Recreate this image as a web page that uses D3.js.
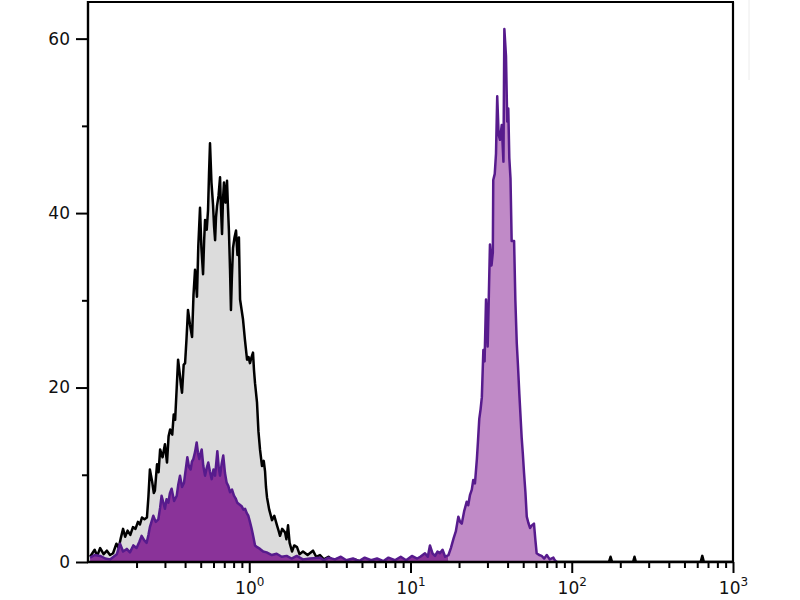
<!DOCTYPE html>
<html>
<head>
<meta charset="utf-8">
<script src="https://cdn.jsdelivr.net/npm/d3@7"></script>
<style>
  html, body { margin: 0; padding: 0; background: #fff; }
  svg { display: block; }
  text { font-family: "DejaVu Sans", Verdana, sans-serif; fill: #111; }
</style>
</head>
<body>
<svg id="chart" width="800" height="600"></svg>
<script>
// ---- data (fluorescence value, event count) ----
const controlHist = [
  [0.103,0.6],[0.110,1.4],[0.114,0.7],[0.119,1.6],[0.125,0.9],[0.131,1.3],[0.137,0.8],[0.143,1.0],
  [0.150,2.1],[0.155,1.6],[0.160,2.8],[0.165,3.8],[0.170,2.9],[0.176,3.6],[0.183,3.1],[0.190,4.0],
  [0.197,3.8],[0.204,4.6],[0.210,4.3],[0.216,5.1],[0.224,4.9],[0.232,5.1],[0.237,7.5],[0.242,10.6],
  [0.250,9.2],[0.256,7.9],[0.260,8.2],[0.268,11.2],[0.274,10.3],[0.280,12.9],[0.290,12.0],[0.300,13.5],
  [0.309,11.4],[0.316,14.4],[0.323,15.2],[0.333,14.6],[0.340,16.9],[0.347,16.3],[0.355,20.0],[0.362,23.2],
  [0.371,21.5],[0.377,20.3],[0.383,19.4],[0.392,22.6],[0.400,22.8],[0.408,25.5],[0.417,28.9],[0.429,27.2],
  [0.442,25.8],[0.451,30.6],[0.461,33.5],[0.468,31.8],[0.474,30.4],[0.483,36.2],[0.495,40.6],[0.505,36.0],
  [0.517,33.0],[0.525,36.8],[0.532,39.2],[0.545,38.1],[0.555,40.3],[0.563,44.5],[0.571,48.0],[0.583,43.5],
  [0.596,41.0],[0.605,38.5],[0.614,36.9],[0.622,39.5],[0.631,40.8],[0.645,42.0],[0.659,44.1],[0.668,40.5],
  [0.678,37.6],[0.687,41.5],[0.697,43.5],[0.712,41.2],[0.728,43.7],[0.738,40.6],[0.748,38.0],[0.760,33.5],
  [0.770,28.9],[0.780,32.5],[0.793,36.0],[0.810,37.2],[0.828,38.0],[0.845,35.2],[0.863,37.2],[0.877,30.1],
  [0.895,29.0],[0.915,27.8],[0.940,25.5],[0.969,23.2],[0.990,23.5],[1.010,22.8],[1.030,23.4],[1.055,24.0],
  [1.070,22.0],[1.086,20.5],[1.117,18.3],[1.140,15.0],[1.166,12.9],[1.200,11.0],[1.230,11.6],[1.253,10.4],
  [1.270,8.6],[1.289,7.4],[1.330,6.0],[1.384,4.8],[1.430,5.3],[1.486,4.2],[1.520,3.6],[1.552,3.0],
  [1.600,3.8],[1.667,3.4],[1.700,2.6],[1.740,4.2],[1.780,2.2],[1.842,1.2],[1.900,1.9],[1.978,1.7],
  [2.050,0.9],[2.154,1.2],[2.300,0.8],[2.484,1.3],[2.600,0.6],[2.745,0.8],[2.900,0.3],[3.100,0.6],
  [3.300,0.2],[3.600,0.4],[4.000,0.1],[4.500,0.3],[5.000,0.0],[170,0.0],[174,0.6],[178,0.0],
  [240,0.0],[245,0.6],[250,0.0],[630,0.0],[645,0.7],[660,0.0],[1000,0.0]
];

const stainedLow = [
  [0.103,0.5],[0.110,0.8],[0.119,0.7],[0.128,0.4],[0.137,0.3],[0.144,0.6],[0.151,0.9],[0.158,2.1],
  [0.165,1.2],[0.174,1.5],[0.182,1.1],[0.191,1.9],[0.200,1.6],[0.208,2.3],[0.215,3.0],[0.223,2.5],
  [0.231,2.2],[0.237,3.1],[0.242,4.0],[0.254,5.3],[0.263,4.6],[0.273,4.9],[0.280,6.2],[0.286,7.6],
  [0.300,6.1],[0.307,7.2],[0.315,6.8],[0.322,7.9],[0.330,8.4],[0.342,7.0],[0.355,7.6],[0.363,8.9],
  [0.372,9.9],[0.383,8.6],[0.394,9.1],[0.403,10.5],[0.413,12.0],[0.423,10.9],[0.433,10.6],[0.441,11.5],
  [0.450,11.8],[0.461,12.6],[0.472,13.7],[0.481,12.5],[0.490,11.8],[0.498,12.4],[0.507,12.9],[0.519,11.0],
  [0.532,9.9],[0.545,10.8],[0.557,11.4],[0.570,10.4],[0.585,9.5],[0.600,10.6],[0.614,9.9],[0.634,12.7],
  [0.647,10.8],[0.659,9.9],[0.675,11.3],[0.690,12.2],[0.707,10.2],[0.724,9.1],[0.742,8.7],[0.760,8.0],
  [0.782,8.3],[0.804,7.6],[0.823,7.3],[0.843,6.8],[0.870,6.6],[0.897,6.4],[0.920,6.0],[0.942,6.1],
  [0.965,5.6],[0.987,5.3],[1.010,4.6],[1.035,3.8],[1.060,2.9],[1.086,1.9],[1.120,1.7],[1.166,1.5],
  [1.220,1.2],[1.282,1.1],[1.380,0.8],[1.479,0.95],[1.590,0.6],[1.706,0.7],[1.830,0.4],[1.970,0.7],
  [2.150,0.3],[2.380,0.4],[2.745,0.5],[2.900,0.2],[3.100,0.5],[3.400,0.3],[3.700,0.6],[4.000,0.2],
  [4.400,0.4],[4.800,0.1],[5.200,0.5],[5.700,0.2],[6.200,0.4],[6.800,0.1],[7.300,0.5],[8.000,0.2],
  [8.700,0.6],[9.400,0.2],[10.20,0.7],[11.00,0.4],[11.50,0.6],[12.30,1.0],[12.80,0.6],[13.20,1.9],
  [13.70,1.0],[14.20,0.7],[14.70,1.2],[15.20,1.0],[15.80,1.4],[16.40,0.6],[17.20,0.8]
];

const stainedHigh = [
  [17.2,0.8],[17.8,1.6],[18.5,2.7],[19.1,3.5],[19.8,5.2],[20.3,4.6],[20.8,4.4],[21.5,5.8],
  [22.3,6.9],[22.8,6.5],[23.4,7.7],[24.0,8.3],[24.5,9.4],[25.1,9.0],[25.8,11.8],[26.2,13.8],
  [26.7,16.4],[27.2,17.5],[27.7,18.9],[28.3,24.3],[28.8,23.0],[29.4,30.1],[30.1,24.7],[30.6,30.5],
  [31.1,36.4],[31.8,34.0],[32.4,35.5],[32.6,43.8],[33.3,44.5],[33.9,46.8],[34.5,53.4],[35.2,49.0],
  [35.9,48.4],[36.8,50.1],[37.7,45.9],[38.2,61.1],[39.1,58.0],[39.8,50.5],[40.4,52.0],[41.0,46.3],
  [41.7,44.0],[42.4,36.8],[43.9,36.8],[44.7,30.0],[45.6,25.1],[46.4,22.5],[47.3,19.3],[48.9,14.3],
  [49.7,12.5],[50.6,10.2],[51.6,8.0],[52.6,5.2],[53.8,4.5],[55.1,3.9],[56.6,4.2],[58.3,4.4],
  [59.5,2.5],[60.6,1.0],[62.8,0.8],[65.1,0.7],[67.5,0.4],[70.0,0.8],[73.0,0.3],[76.9,0.5],
  [78.5,0.2],[80.7,0.0]
];

const xMajorTicks = [1, 10, 100, 1000];
const xTickExponents = ["0", "1", "2", "3"];
const xMinorTicks = [0.2,0.3,0.4,0.5,0.6,0.7,0.8,0.9, 2,3,4,5,6,7,8,9, 20,30,40,50,60,70,80,90, 200,300,400,500,600,700,800,900];
const yMajorTicks = [0, 20, 40, 60];
const yMinorTicks = [10, 30, 50];

(function draw() {
  const mLeft = 88, mRight = 733, mTop = 2, mBottom = 562;
  const svg = d3.select("#chart");

  const x = d3.scaleLog().domain([0.1, 1000]).range([mLeft, mRight]);
  const y = d3.scaleLinear().domain([0, 64.2]).range([mBottom, mTop]);

  const area = d3.area().x(d => x(d[0])).y0(y(0)).y1(d => y(d[1]));
  const line = d3.line().x(d => x(d[0])).y(d => y(d[1]));

  svg.append("clipPath").attr("id", "plotclip")
    .append("rect").attr("x", mLeft).attr("y", mTop).attr("width", mRight - mLeft).attr("height", mBottom - mTop);

  const plot = svg.append("g").attr("clip-path", "url(#plotclip)");

  // control (gray fill, black outline)
  plot.append("path").datum(controlHist).attr("d", area).attr("fill", "#dcdcdc");
  plot.append("path").datum(controlHist).attr("d", line)
    .attr("fill", "none").attr("stroke", "#000").attr("stroke-width", 2.5).attr("stroke-linejoin", "round");

  // stained (dark purple low population, light purple high population)
  plot.append("path").datum(stainedLow).attr("d", area).attr("fill", "#8a3399");
  plot.append("path").datum(stainedHigh).attr("d", area).attr("fill", "#c08ac7");
  plot.append("path").datum(stainedLow.concat(stainedHigh.slice(1))).attr("d", line)
    .attr("fill", "none").attr("stroke", "#571b8d").attr("stroke-width", 2.5).attr("stroke-linejoin", "round");

  // frame top and right
  svg.append("line").attr("x1", mLeft).attr("x2", mRight + 1).attr("y1", mTop).attr("y2", mTop)
    .attr("stroke", "#000").attr("stroke-width", 2);
  svg.append("line").attr("x1", mRight).attr("x2", mRight).attr("y1", mTop).attr("y2", mBottom)
    .attr("stroke", "#000").attr("stroke-width", 2.2);

  // faint artifact line on the right
  svg.append("line").attr("x1", 749).attr("x2", 749).attr("y1", 0).attr("y2", 80)
    .attr("stroke", "#ececec").attr("stroke-width", 1);

  // ---- y axis ----
  const yMinor = d3.axisLeft(y).tickValues(yMinorTicks).tickSize(6).tickFormat("");
  const yMajor = d3.axisLeft(y).tickValues(yMajorTicks).tickSize(12).tickPadding(6);
  const gyMinor = svg.append("g").attr("transform", `translate(${mLeft},0)`).call(yMinor);
  const gy = svg.append("g").attr("transform", `translate(${mLeft},0)`).call(yMajor);
  [gyMinor, gy].forEach(g => {
    g.select(".domain").remove();
    g.selectAll(".tick line").attr("stroke", "#000").attr("stroke-width", 2);
  });
  gy.selectAll(".tick text").attr("font-size", 17).attr("font-family", "DejaVu Sans, Verdana, sans-serif").attr("fill", "#111");
  svg.append("line").attr("x1", mLeft).attr("x2", mLeft).attr("y1", mTop - 1).attr("y2", mBottom + 1)
    .attr("stroke", "#000").attr("stroke-width", 2.4);

  // ---- x axis ----
  const xMinor = d3.axisBottom(x).tickValues(xMinorTicks).tickSize(6).tickFormat("");
  const xMajor = d3.axisBottom(x).tickValues(xMajorTicks).tickSize(11).tickFormat("");
  const gxMinor = svg.append("g").attr("transform", `translate(0,${mBottom})`).call(xMinor);
  const gx = svg.append("g").attr("transform", `translate(0,${mBottom})`).call(xMajor);
  [gxMinor, gx].forEach(g => {
    g.select(".domain").remove();
    g.selectAll(".tick line").attr("stroke", "#000").attr("stroke-width", 2);
  });
  gx.selectAll(".tick").each(function(d, i) {
    const t = d3.select(this).append("text")
      .attr("y", 32).attr("text-anchor", "middle")
      .attr("font-size", 17).attr("fill", "#111").attr("font-family", "DejaVu Sans, Verdana, sans-serif");
    t.append("tspan").text("10");
    t.append("tspan").attr("font-size", 12).attr("dy", -8).text(xTickExponents[i]);
  });
  svg.append("line").attr("x1", mLeft - 1).attr("x2", mRight + 1).attr("y1", mBottom).attr("y2", mBottom)
    .attr("stroke", "#000").attr("stroke-width", 2.4);
})();
</script>
</body>
</html>
